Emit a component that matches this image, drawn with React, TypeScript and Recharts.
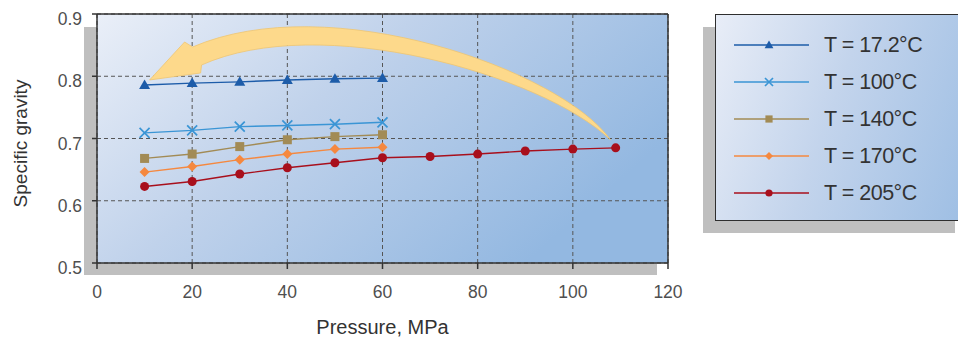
import React from 'react'
import {
  LineChart, Line, XAxis, YAxis, CartesianGrid, ReferenceLine,
} from 'recharts'

// pressure (MPa) sample points
const pressureShort = [10, 20, 30, 40, 50, 60]
const pressureLong = [10, 20, 30, 40, 50, 60, 70, 80, 90, 100, 109]

// specific gravity
const sg172 = [0.786, 0.789, 0.791, 0.794, 0.796, 0.797]
const sg100 = [0.709, 0.713, 0.719, 0.721, 0.723, 0.726]
const sg140 = [0.668, 0.675, 0.687, 0.698, 0.703, 0.706]
const sg170 = [0.646, 0.655, 0.666, 0.675, 0.683, 0.686]
const sg205 = [0.623, 0.631, 0.643, 0.653, 0.661, 0.669, 0.671, 0.675, 0.680, 0.683, 0.685]

const xTicks = [0, 20, 40, 60, 80, 100, 120]
const yTicks = [0.5, 0.6, 0.7, 0.8, 0.9]

// yellow arrow: tail near the last 205°C point, head at the first 17.2°C point
const arrowTail = { x: 107.9, y: 0.698 }
const arrowTip = { x: 11.05, y: 0.794 }

type MarkerShape = 'triangle' | 'cross' | 'square' | 'diamond' | 'circle'

const toRows = (xs: number[], ys: number[]) => xs.map((p, i) => ({ p, sg: ys[i] }))

const series = [
  { key: 't172', label: 'T = 17.2°C', color: '#1d5ca9', shape: 'triangle' as MarkerShape, data: toRows(pressureShort, sg172) },
  { key: 't100', label: 'T = 100°C', color: '#3a95d5', shape: 'cross' as MarkerShape, data: toRows(pressureShort, sg100) },
  { key: 't140', label: 'T = 140°C', color: '#a28b55', shape: 'square' as MarkerShape, data: toRows(pressureShort, sg140) },
  { key: 't170', label: 'T = 170°C', color: '#f5883f', shape: 'diamond' as MarkerShape, data: toRows(pressureShort, sg170) },
  { key: 't205', label: 'T = 205°C', color: '#a80f1c', shape: 'circle' as MarkerShape, data: toRows(pressureLong, sg205) },
]

const FONT = '"Liberation Sans", Arial, Helvetica, sans-serif'

function Marker({ cx, cy, shape, color, s = 1 }: { cx: number; cy: number; shape: MarkerShape; color: string; s?: number }) {
  if (cx == null || cy == null) return null
  switch (shape) {
    case 'triangle':
      return <polygon points={`${cx},${cy - 5.5 * s} ${cx + 5.5 * s},${cy + 4 * s} ${cx - 5.5 * s},${cy + 4 * s}`} fill={color} />
    case 'cross':
      return (
        <path
          d={`M${cx - 5 * s},${cy - 5 * s}L${cx + 5 * s},${cy + 5 * s}M${cx - 5 * s},${cy + 5 * s}L${cx + 5 * s},${cy - 5 * s}`}
          stroke={color} strokeWidth={1.7} fill="none"
        />
      )
    case 'square':
      return <rect x={cx - 4.5 * s} y={cy - 4.5 * s} width={9 * s} height={9 * s} fill={color} />
    case 'diamond':
      return <polygon points={`${cx},${cy - 5 * s} ${cx + 5 * s},${cy} ${cx},${cy + 5 * s} ${cx - 5 * s},${cy}`} fill={color} />
    default:
      return <circle cx={cx} cy={cy} r={4.5 * s} fill={color} />
  }
}

function YTick({ x, y, payload }: any) {
  return (
    <text x={x} y={y + 5} dy="0.35em" textAnchor="end" fontSize={17.5} fill="#4f4f4f" fontFamily={FONT}>
      {Number(payload.value).toFixed(1)}
    </text>
  )
}

function XTick({ x, y, payload }: any) {
  return (
    <text x={x} y={y} dy="0.71em" textAnchor="middle" fontSize={17.5} fill="#4f4f4f" fontFamily={FONT}>
      {payload.value}
    </text>
  )
}

function ArrowShape({ x1, y1, x2, y2 }: any) {
  const tx = x1, ty = y1, hx = x2, hy = y2
  const d = [
    `M${tx},${ty}`,
    `C${tx - 50},${ty - 70} ${hx + 180},${hy - 92} ${hx + 43},${hy - 33}`,
    `L${hx + 35},${hy - 38}`,
    `L${hx},${hy}`,
    `L${hx + 51},${hy - 7}`,
    `L${hx + 52},${hy - 15}`,
    `C${hx + 170},${hy - 68} ${tx - 70},${ty - 66} ${tx},${ty}`,
    'Z',
  ].join(' ')
  return <path d={d} fill="#fdd98b" stroke="#efc571" strokeWidth={0.8} />
}

function ChartLegend() {
  return (
    <>
      <div style={{ position: 'absolute', left: 703, top: 27, width: 252, height: 206, background: '#bfbfbf' }} />
      <div
        style={{
          position: 'absolute', left: 715, top: 14, width: 300, height: 205,
          borderTop: '1.5px solid #2e2e2e', borderLeft: '1.5px solid #2e2e2e', borderBottom: '1.5px solid #2e2e2e',
          background: 'linear-gradient(110deg, #e8edf7 0%, #c3d4ec 40%, #9fbfe4 85%)',
        }}
      >
        {series.map((s, i) => (
          <div key={s.key} style={{ position: 'absolute', left: 0, top: 30 + i * 37 - 14, height: 28, width: 260 }}>
            <svg width={100} height={28} style={{ position: 'absolute', left: 0, top: 0 }}>
              <line x1={18} x2={93} y1={14} y2={14} stroke={s.color} strokeWidth={1.5} />
              <Marker cx={53} cy={14} shape={s.shape} color={s.color} s={0.8} />
            </svg>
            <span
              style={{
                position: 'absolute', left: 108, top: 0, lineHeight: '28px',
                fontSize: 21.5, color: '#333', fontFamily: FONT, whiteSpace: 'nowrap', letterSpacing: -0.5,
              }}
            >
              {s.label}
            </span>
          </div>
        ))}
      </div>
    </>
  )
}

export default function App() {
  return (
    <div style={{ position: 'absolute', left: 0, top: 0, width: 958, height: 338, background: '#fff', overflow: 'hidden' }}>
      {/* drop shadow behind the plot box */}
      <div style={{ position: 'absolute', left: 84, top: 27, width: 573, height: 248, background: '#bfbfbf' }} />
      <div style={{ position: 'absolute', left: 0, top: 0 }}>
        <LineChart width={958} height={338} margin={{ top: 14, right: 290, bottom: 0, left: 0 }}>
          <defs>
            <linearGradient id="plotBg" x1="0" y1="0" x2="1" y2="0.5">
              <stop offset="0%" stopColor="#eaeff8" />
              <stop offset="45%" stopColor="#c0d2eb" />
              <stop offset="100%" stopColor="#93b8e1" />
            </linearGradient>
          </defs>
          <CartesianGrid fill="url(#plotBg)" stroke="#555" strokeDasharray="4 3" />
          <XAxis
            dataKey="p" type="number" domain={[0, 120]} ticks={xTicks} height={75}
            stroke="#333" strokeWidth={1.5} tickSize={6} tickMargin={17} tick={<XTick />}
            allowDuplicatedCategory={false}
            label={(props: any) => {
              const vb = props.viewBox
              return (
                <text x={vb.x + vb.width / 2} y={vb.y + 71} textAnchor="middle" fontSize={20} fill="#333" fontFamily={FONT}>
                  Pressure, MPa
                </text>
              )
            }}
          />
          <YAxis
            type="number" domain={[0.5, 0.9]} ticks={yTicks} width={97}
            stroke="#333" strokeWidth={1.5} tickSize={5} tickMargin={10} tick={<YTick />}
            label={(props: any) => {
              const vb = props.viewBox
              const cy = vb.y + vb.height / 2 + 5
              return (
                <text x={20} y={cy} transform={`rotate(-90 20 ${cy})`} dy="0.35em" textAnchor="middle" fontSize={19} fill="#333" fontFamily={FONT}>
                  Specific gravity
                </text>
              )
            }}
          />
          <ReferenceLine y={0.9} stroke="#333" strokeWidth={1.5} />
          <ReferenceLine x={120} stroke="#333" strokeWidth={1.5} />
          <ReferenceLine segment={[arrowTail, arrowTip]} shape={<ArrowShape />} />
          {series.map((s) => (
            <Line
              key={s.key}
              data={s.data}
              dataKey="sg"
              name={s.label}
              type="linear"
              stroke={s.color}
              strokeWidth={1.4}
              isAnimationActive={false}
              dot={(p: any) => <Marker key={`${s.key}-${p.index}`} cx={p.cx} cy={p.cy} shape={s.shape} color={s.color} />}
              activeDot={false}
            />
          ))}
        </LineChart>
      </div>
      <ChartLegend />
    </div>
  )
}
